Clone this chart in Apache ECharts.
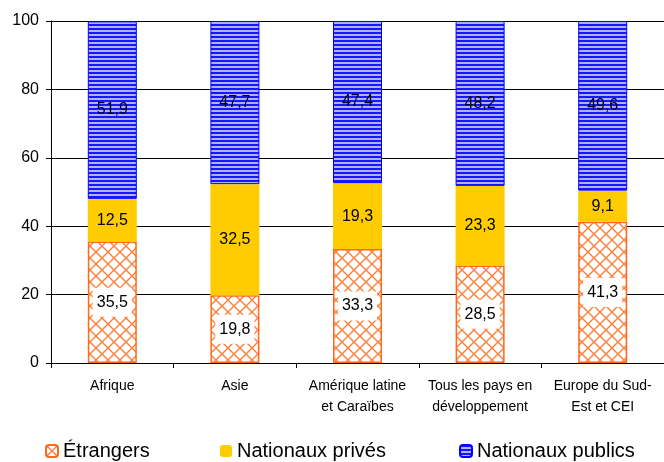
<!DOCTYPE html>
<html>
<head>
<meta charset="utf-8">
<script src="https://cdn.jsdelivr.net/npm/echarts@6/dist/echarts.min.js"></script>
<style>
  html, body { margin: 0; padding: 0; background: #fff; }
  #chart { width: 664px; height: 462px; }
</style>
</head>
<body>
<div id="chart"></div>
<script>
// Regions and the share (%) of each type of owner
const categories = [
  'Afrique',
  'Asie',
  'Amérique latine\net Caraïbes',
  'Tous les pays en\ndéveloppement',
  'Europe du Sud-\nEst et CEI'
];
const etrangers = [35.5, 19.8, 33.3, 28.5, 41.3];
const nationauxPrives = [12.5, 32.5, 19.3, 23.3, 9.1];
const nationauxPublics = [51.9, 47.7, 47.4, 48.2, 49.6];
const yTicks = [0, 20, 40, 60, 80, 100];

const FONT = "'Liberation Sans', Arial, sans-serif";

// Orange diamond cross-hatch on white
function hatchPattern() {
  const c = document.createElement('canvas');
  c.width = 12; c.height = 12;
  const g = c.getContext('2d');
  g.fillStyle = '#ffffff';
  g.fillRect(0, 0, 12, 12);
  g.strokeStyle = '#ff7f3a';
  g.lineWidth = 1.4;
  g.beginPath();
  g.moveTo(0, 0); g.lineTo(12, 12);
  g.moveTo(12, 0); g.lineTo(0, 12);
  g.stroke();
  return c;
}

// Horizontal blue stripes
function stripePattern() {
  const c = document.createElement('canvas');
  c.width = 4; c.height = 4;
  const g = c.getContext('2d');
  g.fillStyle = '#1818ff';
  g.fillRect(0, 0, 4, 2);
  g.fillStyle = '#b0b0ff';
  g.fillRect(0, 2, 4, 2);
  return c;
}

const fmt = p => p.value.toFixed(1).replace('.', ',');

const chart = echarts.init(document.getElementById('chart'), null, { renderer: 'canvas' });

const legendBase = {
  orient: 'horizontal',
  top: 441,
  padding: 0,
  itemWidth: 12,
  itemHeight: 12,
  itemGap: 0,
  selectedMode: false,
  textStyle: { fontFamily: FONT, fontSize: 20, color: '#000' }
};

chart.setOption({
  animation: false,
  backgroundColor: '#ffffff',
  textStyle: { fontFamily: FONT },
  grid: { left: 51, right: -6, top: 21, bottom: 99, containLabel: false },
  legend: [
    Object.assign({}, legendBase, { left: 45, data: ['Étrangers'] }),
    Object.assign({}, legendBase, { left: 220, data: ['Nationaux privés'] }),
    Object.assign({}, legendBase, { left: 459, data: ['Nationaux publics'] })
  ],
  xAxis: {
    type: 'category',
    data: categories,
    boundaryGap: true,
    axisLine: { lineStyle: { color: '#000', width: 1 } },
    axisTick: { show: true, length: 5, lineStyle: { color: '#000' } },
    axisLabel: {
      fontFamily: FONT, fontSize: 14, color: '#000',
      lineHeight: 21, margin: 13, interval: 0
    }
  },
  yAxis: {
    type: 'value',
    min: yTicks[0],
    max: yTicks[yTicks.length - 1],
    interval: 20,
    axisLine: { show: true, lineStyle: { color: '#000', width: 1 } },
    axisTick: { show: true, length: 5, lineStyle: { color: '#000' } },
    axisLabel: { fontFamily: FONT, fontSize: 16, color: '#000', margin: 12 },
    splitLine: { show: true, lineStyle: { color: '#000', width: 1 } }
  },
  series: [
    {
      name: 'Étrangers',
      type: 'bar',
      stack: 'total',
      barWidth: 49,
      data: etrangers,
      itemStyle: {
        color: { image: hatchPattern(), repeat: 'repeat' },
        borderColor: '#ff6a1a',
        borderWidth: 1.5
      },
      label: {
        show: true,
        position: 'inside',
        formatter: fmt,
        fontFamily: FONT, fontSize: 16, color: '#000',
        backgroundColor: '#ffffff',
        padding: [7, 4, 6, 4]
      }
    },
    {
      name: 'Nationaux privés',
      type: 'bar',
      stack: 'total',
      data: nationauxPrives,
      itemStyle: { color: '#ffcc00' },
      label: {
        show: true, position: 'inside', formatter: fmt,
        fontFamily: FONT, fontSize: 16, color: '#000'
      }
    },
    {
      name: 'Nationaux publics',
      type: 'bar',
      stack: 'total',
      data: nationauxPublics,
      itemStyle: {
        color: { image: stripePattern(), repeat: 'repeat' },
        borderColor: '#0000ff',
        borderWidth: 1
      },
      label: {
        show: true, position: 'inside', formatter: fmt,
        fontFamily: FONT, fontSize: 16, color: '#000'
      }
    }
  ]
});
</script>
</body>
</html>
